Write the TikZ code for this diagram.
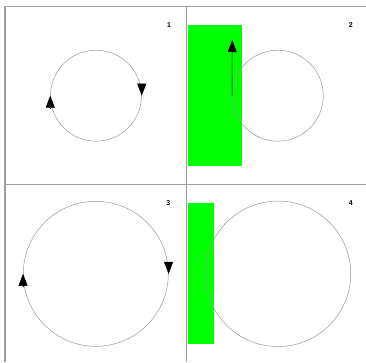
\documentclass[tikz,border=0pt]{standalone}
\usepackage{fontspec}
\setmainfont{Liberation Sans}
\usetikzlibrary{arrows.meta}
\begin{document}
\begin{tikzpicture}[x=1pt,y=-1pt,
  frame/.style={draw=gray!75,line width=1.2pt},
  ring/.style={circle,draw=gray!80,line width=0.5pt,inner sep=0pt},
  greenbar/.style={fill=green,draw=none},
  tip/.style={-{Triangle[length=12pt,width=9pt]},black,line width=0.5pt},
  lbl/.style={font=\bfseries\fontsize{7}{8}\selectfont,inner sep=0pt}]
\useasboundingbox (0,0) rectangle (366,362);
% frame and dividers
\draw[frame] (5,362) -- (5,6.3) -- (366,6.3);
\draw[frame] (5,184.7) -- (366,184.7);
\draw[frame] (186.7,6.3) -- (186.7,362);
% green bars
\fill[greenbar] (187.5,25) rectangle (241.7,166);
\fill[greenbar] (187.5,202.7) rectangle (214,344.3);
% circles
\node[ring,minimum size=91pt] (c1) at (96,95.7) {};
\node[ring,minimum size=91pt] (c2) at (277.8,95.7) {};
\node[ring,minimum size=145pt] (c3) at (95.8,273.8) {};
\node[ring,minimum size=145.5pt] (c4) at (278,273.8) {};
% arrowheads
\draw[tip] ([yshift=12pt]c1.east) -- (c1.east);
\draw[tip] ([yshift=-12pt]c1.west) -- (c1.west);
\draw[tip] ([yshift=12pt]c3.east) -- (c3.east);
\draw[tip] ([yshift=-12pt]c3.west) -- (c3.west);
\coordinate (a2) at (232.3,40);
\draw[tip] (c2.west) -- (a2);
% labels
\node[lbl] (l1) at (169,25) {1};
\node[lbl] (l2) at (350.7,25) {2};
\node[lbl] (l3) at (168.3,203.3) {3};
\node[lbl] (l4) at (350.7,203.3) {4};
\end{tikzpicture}
\end{document}
